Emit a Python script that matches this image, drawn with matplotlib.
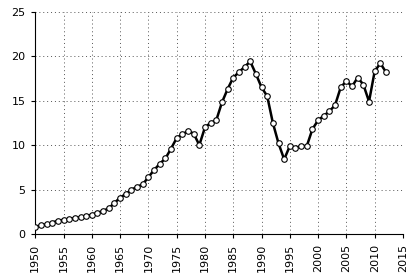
import matplotlib
matplotlib.use('Agg')
import matplotlib.pyplot as plt

# data (yearly, 1950-2012)
years = list(range(1950, 2013))
values = [0.8, 1.0, 1.1, 1.3, 1.5, 1.6, 1.7, 1.8, 1.9, 2.0,
          2.2, 2.4, 2.6, 2.9, 3.5, 4.1, 4.5, 5.0, 5.3, 5.6,
          6.4, 7.2, 7.9, 8.5, 9.6, 10.8, 11.2, 11.6, 11.3, 10.0,
          12.0, 12.5, 12.8, 14.8, 16.3, 17.6, 18.2, 18.8, 19.4, 18.0,
          16.5, 15.5, 12.5, 10.2, 8.4, 9.9, 9.7, 9.9, 9.9, 11.8,
          12.8, 13.3, 13.8, 14.5, 16.5, 17.2, 16.6, 17.6, 16.8, 14.9,
          18.3, 19.2, 18.2]

xticks = list(range(1950, 2016, 5))
yticks = [0, 5, 10, 15, 20, 25]

fig = plt.figure(figsize=(4.15, 2.78), dpi=100)
ax = fig.add_axes([0.085, 0.158, 0.886, 0.8])

ax.plot(years, values, color='black', lw=1.8, marker='o', ms=4,
        mfc='white', mec='black', mew=0.8, zorder=3)

ax.set_xlim(1950, 2015)
ax.set_ylim(0, 25)
ax.set_xticks(xticks)
ax.set_yticks(yticks)
ax.set_xticklabels([str(x) for x in xticks], rotation=90, fontsize=8)
ax.set_yticklabels([str(y) for y in yticks], fontsize=8)
ax.tick_params(direction='out', length=3, width=0.8, pad=4)

ax.grid(True, linestyle=(0, (1, 3)), color='#555555', lw=0.7)
for s in ['top', 'right']:
    ax.spines[s].set_visible(False)

fig.savefig('out.png', dpi=100)
